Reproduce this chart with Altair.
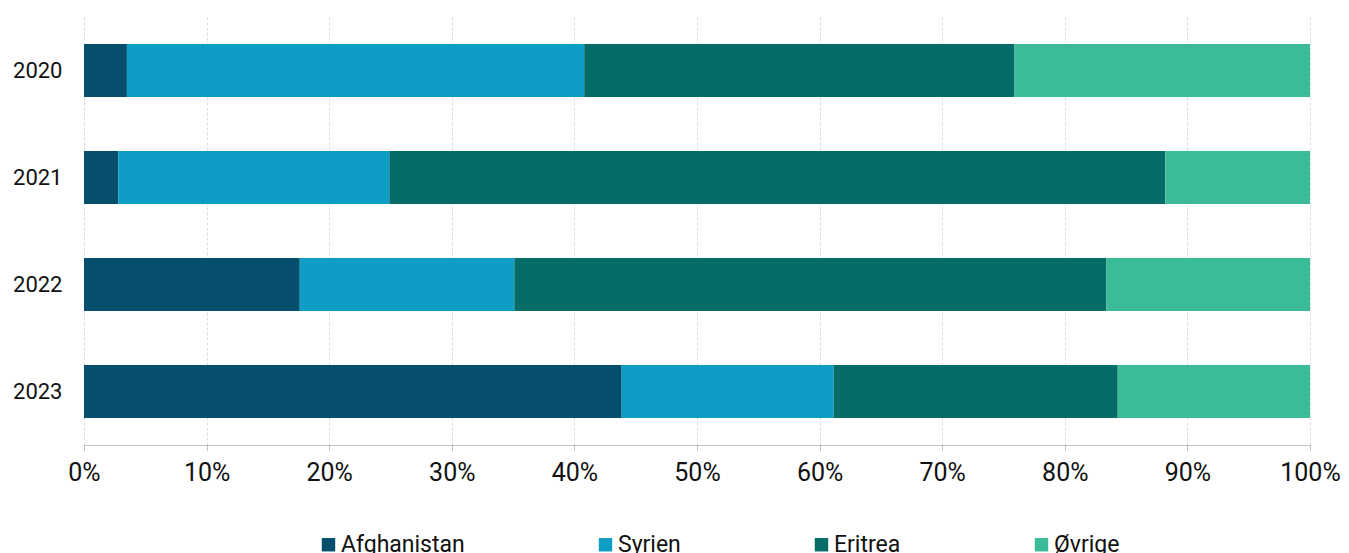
import altair as alt
import pandas as pd

years = ["2020", "2021", "2022", "2023"]
countries = ["Afghanistan", "Syrien", "Eritrea", "Øvrige"]
afghanistan = [3.5, 2.8, 17.6, 43.9]
syrien = [37.3, 22.1, 17.5, 17.3]
eritrea = [35.1, 63.3, 48.3, 23.2]
ovrige = [24.1, 11.8, 16.6, 15.7]
colors = ["#064F6C", "#0D9DC5", "#066C68", "#3CBB99"]

rows = []
for i, y in enumerate(years):
    for j, (c, vals) in enumerate(zip(countries, [afghanistan, syrien, eritrea, ovrige])):
        rows.append({"year": y, "country": c, "value": vals[i], "order": j})
df = pd.DataFrame(rows)

FONT = "Roboto"

chart = alt.Chart(df).mark_bar(size=53).encode(
    y=alt.Y("year:N", sort=years, title=None,
            scale=alt.Scale(paddingInner=0.5, paddingOuter=0.25),
            axis=alt.Axis(ticks=False, domain=False, labelPadding=22,
                          minExtent=70, maxExtent=70,
                          labelFontSize=22, labelColor="#111", labelFont=FONT)),
    x=alt.X("value:Q", stack="normalize", title=None,
            scale=alt.Scale(domain=[0, 1], nice=False),
            axis=alt.Axis(format=".0%", values=[i / 10 for i in range(11)],
                          grid=True, gridColor="#dddddd", gridDash=[3, 2],
                          domainColor="#888888", domainDash=[1, 1], domainWidth=1,
                          tickColor="#888888", tickDash=[1, 1], tickSize=6,
                          labelFlush=False,
                          labelPadding=9, labelFontSize=25, labelColor="#111",
                          labelFont=FONT)),
    color=alt.Color("country:N", sort=countries,
                    scale=alt.Scale(domain=countries, range=colors),
                    legend=alt.Legend(orient="none", direction="horizontal",
                                      legendX=233, legendY=516, title=None,
                                      symbolType="square", symbolSize=180,
                                      symbolStrokeWidth=0, symbolOpacity=1,
                                      labelFontSize=23, labelColor="#111",
                                      labelFont=FONT, columnPadding=129,
                                      labelOffset=1)),
    order=alt.Order("order:Q", sort="ascending"),
).properties(
    width=1226, height=428,
    padding={"left": 4, "top": 9, "right": 0, "bottom": 5},
).configure_view(stroke=None)

chart.save("out.html", embed_options={"renderer": "svg", "actions": False})
